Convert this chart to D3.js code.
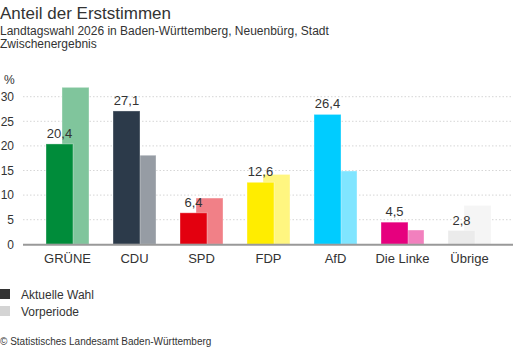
<!DOCTYPE html>
<html>

<head>
    <meta charset="UTF-8">
    <style>
        body { margin: 0; background: #fff; }
        svg text { font-family: "Liberation Sans", Arial, sans-serif; fill: #333; }
    </style>
</head>

<body>
    <div id="chart"></div>

    <script src="https://d3js.org/d3.v7.min.js"></script>
    <script>

        // Data
        const parties = ["GRÜNE", "CDU", "SPD", "FDP", "AfD", "Die Linke", "Übrige"];
        const currentVals = [20.4, 27.1, 6.4, 12.6, 26.4, 4.5, 2.8];
        const previousVals = [31.9, 18.1, 9.4, 14.2, 14.9, 2.9, 7.9];
        const currentColors = ["#008c3a", "#2c3a4a", "#e3000f", "#ffed00", "#00ccff", "#e6007e", "#ebebeb"];
        const previousColors = ["#80c59c", "#969ca4", "#f18087", "#fff680", "#80e5ff", "#f280be", "#f5f5f5"];
        const yTicks = [0, 5, 10, 15, 20, 25, 30];

        const width = 513, height = 352;

        const svg = d3.select("#chart")
            .append("svg")
            .attr("width", width)
            .attr("height", height);

        // Titles
        svg.append("text").attr("x", 0).attr("y", 19)
            .style("font-size", "17px").text("Anteil der Erststimmen");
        svg.append("text").attr("x", 0).attr("y", 35)
            .style("font-size", "12px").text("Landtagswahl 2026 in Baden-Württemberg, Neuenbürg, Stadt");
        svg.append("text").attr("x", 0).attr("y", 48)
            .style("font-size", "12px").text("Zwischenergebnis");

        // Scales
        const x = d3.scaleBand()
            .domain(parties)
            .range([34, 503]);

        const y = d3.scaleLinear()
            .domain([0, 30])
            .range([244.3, 96.7]);

        const barW = 27, offset = 16;
        const groupLeft = d => x(d) + (x.bandwidth() - (barW + offset)) / 2;

        // Grid lines
        svg.append("g")
            .selectAll("line")
            .data(yTicks.filter(d => d > 0))
            .join("line")
            .attr("x1", 23).attr("x2", width)
            .attr("y1", d => y(d)).attr("y2", d => y(d))
            .attr("stroke", "#d6d6d6")
            .attr("stroke-dasharray", "1.5,2");

        // Y axis labels
        const yAxis = svg.append("g")
            .attr("transform", "translate(14,0)")
            .call(d3.axisLeft(y).tickValues(yTicks).tickSize(0).tickPadding(0));
        yAxis.select(".domain").remove();
        yAxis.selectAll("text").style("font-size", "12px").attr("fill", "#333");

        svg.append("text").attr("x", 4).attr("y", 84)
            .style("font-size", "12px").text("%");

        // Previous period bars (behind)
        svg.append("g")
            .selectAll("rect")
            .data(parties)
            .join("rect")
            .attr("x", d => groupLeft(d) + offset)
            .attr("y", (d, i) => y(previousVals[i]))
            .attr("width", barW)
            .attr("height", (d, i) => y(0) - y(previousVals[i]))
            .attr("fill", (d, i) => previousColors[i])
            .attr("stroke", "rgba(255,255,255,0.35)")
            .attr("stroke-width", 1);

        // Current bars
        svg.append("g")
            .selectAll("rect")
            .data(parties)
            .join("rect")
            .attr("x", d => groupLeft(d))
            .attr("y", (d, i) => y(currentVals[i]))
            .attr("width", barW)
            .attr("height", (d, i) => y(0) - y(currentVals[i]))
            .attr("fill", (d, i) => currentColors[i])
            .attr("stroke", "rgba(255,255,255,0.35)")
            .attr("stroke-width", 1);

        // Value labels
        svg.append("g")
            .selectAll("text")
            .data(parties)
            .join("text")
            .attr("x", d => groupLeft(d) + barW / 2)
            .attr("y", (d, i) => y(currentVals[i]) - 6)
            .attr("text-anchor", "middle")
            .style("font-size", "13px")
            .text((d, i) => String(currentVals[i]).replace(".", ","));

        // Baseline
        svg.append("line")
            .attr("x1", 23).attr("x2", width)
            .attr("y1", y(0) + 0.5).attr("y2", y(0) + 0.5)
            .attr("stroke", "#999").attr("stroke-width", 2);

        // X axis labels
        const xAxis = svg.append("g")
            .attr("transform", `translate(0,${y(0)})`)
            .call(d3.axisBottom(x).tickSize(0).tickPadding(9));
        xAxis.select(".domain").remove();
        xAxis.selectAll("text").style("font-size", "13px").attr("fill", "#333");

        // Legend
        const legend = svg.append("g");
        legend.append("rect").attr("x", 0).attr("y", 289).attr("width", 10).attr("height", 10).attr("fill", "#333");
        legend.append("rect").attr("x", 0).attr("y", 306).attr("width", 10).attr("height", 10).attr("fill", "#d4d4d4");
        legend.append("text").attr("x", 21).attr("y", 299).style("font-size", "12px").text("Aktuelle Wahl");
        legend.append("text").attr("x", 21).attr("y", 316).style("font-size", "12px").text("Vorperiode");

        // Source
        svg.append("text").attr("x", 0).attr("y", 345)
            .style("font-size", "10px").text("© Statistisches Landesamt Baden-Württemberg");

    </script>
</body>

</html>
